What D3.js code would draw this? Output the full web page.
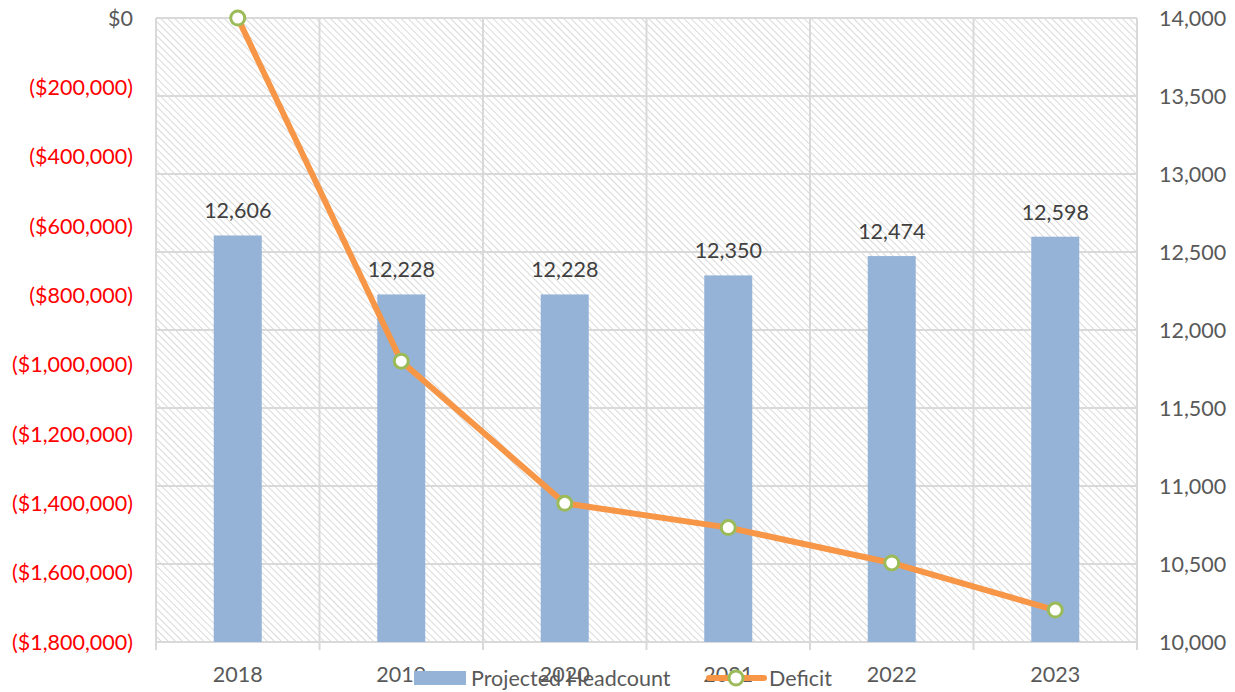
<!DOCTYPE html>
<html><head><meta charset="utf-8">
<script src="https://cdn.jsdelivr.net/npm/d3@7"></script>
<style>body{margin:0;background:#fff;} text{font-family:Lato,"Liberation Sans",sans-serif;}</style>
</head><body>
<svg id="c" width="1235" height="692"></svg>
<script>
const categories = ["2018","2019","2020","2021","2022","2023"];
const headcount = [12606,12228,12228,12350,12474,12598];
const deficit = [0,-990000,-1400000,-1470000,-1572000,-1708000];
const leftTicks = [0,-200000,-400000,-600000,-800000,-1000000,-1200000,-1400000,-1600000,-1800000];
const rightTicks = [10000,10500,11000,11500,12000,12500,13000,13500,14000];

const svg = d3.select("#c");
const L=156, R=1137, T=18, B=642;
const FS = 21.5;
const x = d3.scaleBand().domain(categories).range([L,R]);
const yL = d3.scaleLinear().domain([-1800000,0]).range([B,T]);
const yR = d3.scaleLinear().domain([10000,14000]).range([B,T]);

const defs = svg.append("defs");
const pat = defs.append("pattern").attr("id","hatch").attr("patternUnits","userSpaceOnUse")
  .attr("width",5).attr("height",5).attr("patternTransform","rotate(-45)");
pat.append("line").attr("x1",0).attr("y1",0).attr("x2",0).attr("y2",5).attr("stroke","#d6d6d6").attr("stroke-width",1.8);

svg.append("rect").attr("x",L).attr("y",T).attr("width",R-L).attr("height",B-T).attr("fill","url(#hatch)");

// horizontal gridlines (right axis)
svg.append("g").selectAll("line").data(rightTicks).join("line")
  .attr("x1",L).attr("x2",R).attr("y1",d=>yR(d)).attr("y2",d=>yR(d))
  .attr("stroke","#d9d9d9").attr("stroke-width",2);
// vertical gridlines at category boundaries
const bounds = categories.map(c=>x(c)).concat([R]);
svg.append("g").selectAll("line").data(bounds).join("line")
  .attr("x1",d=>d).attr("x2",d=>d).attr("y1",T).attr("y2",B+8)
  .attr("stroke","#d9d9d9").attr("stroke-width",2);

// bars
const bw = 48;
svg.append("g").selectAll("rect").data(headcount).join("rect")
  .attr("x",(d,i)=>x(categories[i])+x.bandwidth()/2-bw/2)
  .attr("width",bw).attr("y",d=>yR(d)).attr("height",d=>B-yR(d))
  .attr("fill","#95B3D7");
svg.append("g").selectAll("text").data(headcount).join("text")
  .attr("x",(d,i)=>x(categories[i])+x.bandwidth()/2).attr("y",d=>yR(d)-17)
  .attr("text-anchor","middle").attr("font-size",FS).attr("fill","#404040")
  .text(d=>d3.format(",")(d));

// line
const line = d3.line().x((d,i)=>x(categories[i])+x.bandwidth()/2).y(d=>yL(d));
svg.append("path").datum(deficit).attr("d",line).attr("fill","none")
  .attr("stroke","#F79646").attr("stroke-width",6).attr("stroke-linejoin","round");
svg.append("g").selectAll("circle").data(deficit).join("circle")
  .attr("cx",(d,i)=>x(categories[i])+x.bandwidth()/2).attr("cy",d=>yL(d)).attr("r",7)
  .attr("fill","#fff").attr("stroke","#9BBB59").attr("stroke-width",3);

// left axis labels
const fmtL = d=> d===0 ? "$0" : "($"+d3.format(",")(-d)+")";
svg.append("g").selectAll("text").data(leftTicks).join("text")
  .attr("x",133).attr("y",d=>yL(d)).attr("dy","0.35em").attr("text-anchor","end")
  .attr("font-size",FS).attr("fill",d=>d<0?"#FF0000":"#595959").text(fmtL);
// right axis labels
svg.append("g").selectAll("text").data(rightTicks).join("text")
  .attr("x",1159).attr("y",d=>yR(d)).attr("dy","0.35em").attr("text-anchor","start")
  .attr("font-size",FS).attr("fill","#595959").text(d=>d3.format(",")(d));
// x labels
svg.append("g").selectAll("text").data(categories).join("text")
  .attr("x",d=>x(d)+x.bandwidth()/2).attr("y",682).attr("text-anchor","middle")
  .attr("font-size",FS).attr("fill","#595959").text(d=>d);

// legend
const lg = svg.append("g");
lg.append("rect").attr("x",414).attr("y",671).attr("width",52).attr("height",14).attr("fill","#95B3D7");
lg.append("text").attr("x",471).attr("y",686).attr("font-size",FS).attr("fill","#595959").text("Projected Headcount");
lg.append("line").attr("x1",709).attr("x2",764).attr("y1",678).attr("y2",678).attr("stroke","#F79646").attr("stroke-width",6).attr("stroke-linecap","round");
lg.append("circle").attr("cx",736).attr("cy",678).attr("r",7).attr("fill","#fff").attr("stroke","#9BBB59").attr("stroke-width",3);
lg.append("text").attr("x",769).attr("y",686).attr("font-size",FS).attr("fill","#595959").text("Deficit");
</script>
</body></html>
